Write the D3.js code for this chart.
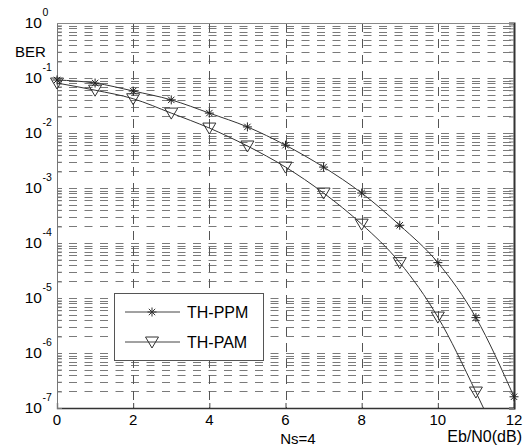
<!DOCTYPE html>
<html>
<head>
<meta charset="utf-8">
<script src="https://cdn.jsdelivr.net/npm/d3@7"></script>
<style>
  body { margin: 0; background: #fff; }
  svg { display: block; font-family: "Liberation Sans", Arial, sans-serif; }
</style>
</head>
<body>
<svg id="svg" width="524" height="447"></svg>
<script>
// data
var ebn0 = [0, 1, 2, 3, 4, 5, 6, 7, 8, 9, 10, 11, 12]
var berPPM = [0.092, 0.081, 0.058, 0.040, 0.023, 0.0129, 0.0060, 0.0024, 8.1e-4, 2.1e-4, 4.4e-5, 4.4e-6, 1.6e-7]
var berPAM = [0.081, 0.060, 0.042, 0.023, 0.0123, 0.0058, 0.0024, 8.1e-4, 2.2e-4, 4.4e-5, 4.5e-6, 1.95e-7, 6e-9]
var xTicks = [0, 2, 4, 6, 8, 10, 12]
var yExps = [0, -1, -2, -3, -4, -5, -6, -7]
var seriesNames = ["TH-PPM", "TH-PAM"]

var svg = d3.select("svg")
// plot box (note: "top" is reserved on window, so use p*)
var pL = 57, pR = 514, pT = 23, pB = 408

var x = d3.scaleLinear().domain([0, 12]).range([pL, pR])
var y = d3.scaleLog().domain([1e-7, 1]).range([pB, pT])

var gridColor = "#7a7a7a"

// minor + major horizontal grid
var hVals = []
for (var e = -7; e < 0; e++) {
  for (var m = 1; m < 10; m++) hVals.push(m * Math.pow(10, e))
}
svg.append("clipPath").attr("id", "clip")
  .append("rect").attr("x", pL).attr("y", pT).attr("width", pR - pL).attr("height", pB - pT)

var grid = svg.append("g")
grid.selectAll("line.h")
  .data(hVals.filter(function(d) { return d > 1e-7 }))
  .enter().append("line")
  .attr("class", "h")
  .attr("x1", pL).attr("x2", pR)
  .attr("y1", function(d) { return Math.round(y(d)) + 0.5 })
  .attr("y2", function(d) { return Math.round(y(d)) + 0.5 })
  .attr("stroke", gridColor)
  .attr("stroke-dasharray", "8,7.5")
  .attr("stroke-dashoffset", 3.5)

grid.selectAll("line.v")
  .data(xTicks.filter(function(d) { return d > 0 && d < 12 }))
  .enter().append("line")
  .attr("class", "v")
  .attr("x1", function(d) { return Math.round(x(d)) + 0.5 })
  .attr("x2", function(d) { return Math.round(x(d)) + 0.5 })
  .attr("y1", pT).attr("y2", pB)
  .attr("stroke", "#555")
  .attr("stroke-dasharray", "9,7")

// axes
var xAxis = d3.axisBottom(x).tickValues(xTicks).tickSize(-5).tickFormat("")
svg.append("g").attr("transform", "translate(0," + pB + ")").call(xAxis)
  .call(function(g) { g.select(".domain").attr("stroke", "#333").attr("stroke-width", 1.3) })
  .selectAll(".tick line").attr("stroke", "#444")

var yAxis = d3.axisLeft(y).tickValues(hVals.concat([1])).tickSize(-5).tickFormat("")
svg.append("g").attr("transform", "translate(" + pL + ",0)").call(yAxis)
  .call(function(g) { g.select(".domain").attr("stroke", "#777") })
  .selectAll(".tick line").attr("stroke", "#777")

var yAxisR = d3.axisRight(y).tickValues(hVals.concat([1])).tickSize(-5).tickFormat("")
svg.append("g").attr("transform", "translate(" + pR + ",0)").call(yAxisR)
  .call(function(g) { g.select(".domain").attr("stroke", "#333").attr("stroke-width", 2) })
  .selectAll(".tick line").attr("stroke", "#777")

svg.append("line").attr("x1", pL).attr("x2", pR).attr("y1", pT + 0.5).attr("y2", pT + 0.5)
  .attr("stroke", "#888")

// tick labels
svg.append("g").selectAll("text")
  .data(xTicks).enter().append("text")
  .attr("x", function(d) { return x(d) })
  .attr("y", 425)
  .attr("text-anchor", "middle")
  .attr("font-size", 15)
  .text(function(d) { return d })

var yl = svg.append("g").selectAll("g")
  .data(yExps).enter().append("g")
  .attr("transform", function(d) { return "translate(0," + y(Math.pow(10, d)) + ")" })
yl.append("text").attr("x", 42).attr("y", 5)
  .attr("text-anchor", "end").attr("font-size", 15.5).text("10")
yl.append("text").attr("x", 42.5).attr("y", -7)
  .attr("font-size", 10.5).text(function(d) { return d })

svg.append("text").attr("x", 15).attr("y", 57).attr("font-size", 15).text("BER")
svg.append("text").attr("x", 298).attr("y", 444).attr("text-anchor", "middle").attr("font-size", 15).text("Ns=4")
svg.append("text").attr("x", 522).attr("y", 442).attr("text-anchor", "end").attr("font-size", 16).text("Eb/N0(dB)")

// curves
var line = d3.line()
  .x(function(d) { return x(d[0]) })
  .y(function(d) { return y(d[1]) })
  .curve(d3.curveMonotoneX)

var plot = svg.append("g").attr("clip-path", "url(#clip)")
var series = [berPPM, berPAM]
series.forEach(function(vals) {
  plot.append("path")
    .datum(ebn0.map(function(t, i) { return [t, vals[i]] }))
    .attr("d", line)
    .attr("fill", "none")
    .attr("stroke", "#333")
    .attr("stroke-width", 1)
})

var starPath = "M-4.5,0H4.5M0,-4.5V4.5M-3.2,-3.2L3.2,3.2M-3.2,3.2L3.2,-3.2"
var triPath = "M-6.5,-5L6.5,-5L0,6Z"

svg.append("clipPath").attr("id", "clipM")
  .append("rect").attr("x", pL - 10).attr("y", pT - 10).attr("width", pR - pL + 20).attr("height", pB - pT + 20)
var markLayer = svg.append("g").attr("clip-path", "url(#clipM)")

markLayer.selectAll("path.ppm")
  .data(ebn0.map(function(t, i) { return [t, berPPM[i]] }))
  .enter().append("path")
  .attr("class", "ppm")
  .attr("transform", function(d) { return "translate(" + x(d[0]) + "," + y(d[1]) + ")" })
  .attr("d", starPath)
  .attr("stroke", "#222").attr("fill", "none")

markLayer.selectAll("path.pam")
  .data(ebn0.map(function(t, i) { return [t, berPAM[i]] }).filter(function(d) { return d[1] >= 1e-7 }))
  .enter().append("path")
  .attr("class", "pam")
  .attr("transform", function(d) { return "translate(" + x(d[0]) + "," + y(d[1]) + ")" })
  .attr("d", triPath)
  .attr("stroke", "#333").attr("fill", "none")

// legend
var lg = svg.append("g")
lg.append("rect").attr("x", 114.5).attr("y", 293.5).attr("width", 149).attr("height", 67)
  .attr("fill", "#fff").attr("stroke", "#555")
var rows = [{ name: seriesNames[0], d: starPath, yy: 312 }, { name: seriesNames[1], d: triPath, yy: 342 }]
rows.forEach(function(r) {
  lg.append("line").attr("x1", 125).attr("x2", 180).attr("y1", r.yy).attr("y2", r.yy).attr("stroke", "#444")
  lg.append("path").attr("d", r.d).attr("transform", "translate(152," + r.yy + ")")
    .attr("stroke", "#333").attr("fill", "none")
  lg.append("text").attr("x", 187).attr("y", r.yy + 6).attr("font-size", 16).text(r.name)
})
</script>
</body>
</html>
